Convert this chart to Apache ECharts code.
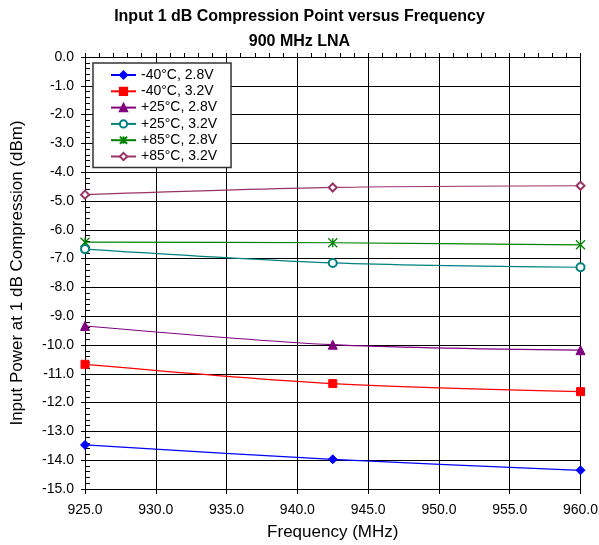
<!DOCTYPE html>
<html>
<head>
<meta charset="utf-8">
<script src="https://cdn.jsdelivr.net/npm/echarts@6/dist/echarts.min.js"></script>
<style>
html,body{margin:0;padding:0;background:#fff;}
#chart{width:599px;height:545px;}
</style>
</head>
<body>
<div id="chart"></div>
<script>
// Data
var frequencies = [925.0, 942.5, 960.0];
var seriesNames = ['-40°C, 2.8V', '-40°C, 3.2V', '+25°C, 2.8V', '+25°C, 3.2V', '+85°C, 2.8V', '+85°C, 3.2V'];
var m40_28 = [-13.47, -13.97, -14.35];
var m40_32 = [-10.67, -11.34, -11.62];
var p25_28 = [-9.34, -9.99, -10.18];
var p25_32 = [-6.67, -7.15, -7.30];
var p85_28 = [-6.43, -6.45, -6.52];
var p85_32 = [-4.78, -4.53, -4.47];
var xTickLabels = ['925.0','930.0','935.0','940.0','945.0','950.0','955.0','960.0'];
var titleLines = ['Input 1 dB Compression Point versus Frequency', '900 MHz LNA'];

var FONT = 'Liberation Sans, Arial, sans-serif';
var seriesData = [m40_28, m40_32, p25_28, p25_32, p85_28, p85_32];
var colors = ['#0000FF', '#FF0000', '#800080', '#008080', '#008000', '#993366'];
var symbols = ['diamond', 'rect', 'triangle', 'emptyCircle',
  'path://M0,0L10,10M10,0L0,10M5,0L5,10', 'emptyDiamond'];
var sizes = [9, 8, 9, 8, 9, 8];

function pairs(arr) {
  return frequencies.map(function (f, i) { return [f, arr[i]]; });
}

var series = seriesNames.map(function (name, i) {
  var st = { color: colors[i], borderColor: colors[i], borderWidth: i === 4 ? 1.3 : 1 };
  return {
    name: name,
    type: 'line',
    xAxisIndex: 0,
    yAxisIndex: 0,
    data: pairs(seriesData[i]),
    smooth: 0.3,
    symbol: symbols[i],
    symbolSize: sizes[i],
    showAllSymbol: true,
    itemStyle: st,
    lineStyle: { color: colors[i], width: 1.2 },
    emphasis: { disabled: true },
    z: 10 - i
  };
});

var titleStyle = { fontFamily: FONT, fontSize: 16, fontWeight: 'bold', color: '#000' };
var gridRect = { left: 85, right: 18.5, top: 57, bottom: 56, containLabel: false, outerBoundsMode: 'none' };

var chart = echarts.init(document.getElementById('chart'), null, { renderer: 'canvas' });
chart.setOption({
  animation: false,
  backgroundColor: '#ffffff',
  textStyle: { fontFamily: FONT },
  title: [
    { text: titleLines[0], left: 'center', top: 9, padding: [0, 0, 0, 6], textStyle: titleStyle },
    { text: titleLines[1], left: 'center', top: 34, padding: [0, 0, 0, 6], textStyle: titleStyle }
  ],
  legend: {
    orient: 'vertical',
    left: 93,
    top: 63,
    padding: [5, 14, 4, 17],
    itemWidth: 25,
    itemHeight: 9,
    itemGap: 2.3,
    backgroundColor: '#ffffff',
    borderColor: '#333',
    borderWidth: 1.5,
    textStyle: { fontFamily: FONT, fontSize: 14, color: '#000' },
    data: seriesNames
  },
  grid: [
    Object.assign({}, gridRect),
    Object.assign({}, gridRect)
  ],
  xAxis: [{
    type: 'value',
    gridIndex: 0,
    min: 925,
    max: 960,
    interval: 5,
    position: 'bottom',
    name: 'Frequency (MHz)',
    nameLocation: 'middle',
    nameGap: 35,
    nameTextStyle: { fontFamily: FONT, fontSize: 17, color: '#000' },
    axisLine: { show: true, lineStyle: { color: '#000', width: 1 } },
    axisTick: { show: true, inside: true, length: 4, lineStyle: { color: '#000' } },
    minorTick: { show: true, splitNumber: 5, length: 4, lineStyle: { color: '#000', width: 1 } },
    axisLabel: {
      fontFamily: FONT, fontSize: 14, color: '#000', margin: 14,
      formatter: function (v) { var s = v.toFixed(1); return xTickLabels.indexOf(s) >= 0 ? s : ''; }
    },
    splitLine: { show: true, lineStyle: { color: '#000', width: 1 } }
  }, {
    type: 'value',
    gridIndex: 1,
    min: 925,
    max: 960,
    interval: 5,
    position: 'bottom',
    axisLine: { show: true, onZero: false, lineStyle: { color: '#000', width: 1 } },
    axisTick: { show: true, inside: false, length: 5, lineStyle: { color: '#000' } },
    axisLabel: { show: false },
    splitLine: { show: false }
  }],
  yAxis: [{
    type: 'value',
    gridIndex: 0,
    min: -15,
    max: 0,
    interval: 1,
    position: 'left',
    name: 'Input Power at 1 dB Compression (dBm)',
    nameLocation: 'middle',
    nameGap: 59,
    nameTextStyle: { fontFamily: FONT, fontSize: 17, color: '#000' },
    axisLine: { show: true, lineStyle: { color: '#000', width: 1 } },
    axisTick: { show: true, inside: true, length: 5, lineStyle: { color: '#000' } },
    minorTick: { show: true, splitNumber: 5, length: 5, lineStyle: { color: '#000', width: 1 } },
    axisLabel: {
      fontFamily: FONT, fontSize: 14, color: '#000', margin: 11,
      formatter: function (v) { return v.toFixed(1); }
    },
    splitLine: { show: true, lineStyle: { color: '#000', width: 1 } }
  }, {
    type: 'value',
    gridIndex: 1,
    min: -15,
    max: 0,
    interval: 1,
    position: 'left',
    axisLine: { show: true, onZero: false, lineStyle: { color: '#000', width: 1 } },
    axisTick: { show: true, inside: false, length: 4, lineStyle: { color: '#000' } },
    axisLabel: { show: false },
    splitLine: { show: false }
  }],
  series: series
});
</script>
</body>
</html>
